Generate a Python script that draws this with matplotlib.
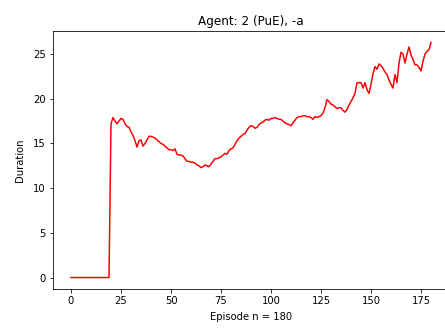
import numpy as np
import matplotlib
matplotlib.use("Agg")
import matplotlib.pyplot as plt

duration = [
    0, 0, 0, 0, 0, 0, 0, 0, 0, 0,
    0, 0, 0, 0, 0, 0, 0, 0, 0, 0,
    17.2, 17.9, 17.5, 17.2, 17.5, 17.8, 17.7, 17.2, 16.9, 16.8,
    16.3, 15.9, 15.3, 14.6, 15.3, 15.4, 14.7, 15.0, 15.4, 15.8,
    15.8, 15.7, 15.6, 15.4, 15.2, 15.0, 14.9, 14.7, 14.5, 14.3,
    14.3, 14.2, 14.4, 13.8, 13.7, 13.7, 13.6, 13.3, 13.0, 13.0,
    12.9, 12.9, 12.8, 12.6, 12.5, 12.3, 12.4, 12.6, 12.5, 12.4,
    12.7, 13.0, 13.3, 13.3, 13.4, 13.5, 13.7, 13.9, 13.8, 14.2,
    14.4, 14.5, 14.9, 15.3, 15.6, 15.8, 16.0, 16.1, 16.5, 16.8,
    17.0, 16.9, 16.7, 16.8, 17.1, 17.3, 17.4, 17.6, 17.7, 17.6,
    17.8, 17.8, 17.9, 17.8, 17.7, 17.7, 17.5, 17.3, 17.2, 17.1,
    17.0, 17.3, 17.6, 17.9, 18.0, 18.0, 18.1, 18.1, 18.0, 18.0,
    17.9, 17.7, 18.0, 17.9, 18.0, 18.1, 18.4, 19.0, 19.9, 19.7,
    19.4, 19.3, 19.1, 18.9, 19.0, 19.0, 18.7, 18.5, 18.8, 19.3,
    19.7, 20.1, 20.6, 21.8, 21.8, 21.8, 21.2, 21.8, 21.0, 20.6,
    21.6, 22.8, 23.6, 23.3, 23.9, 23.7, 23.4, 23.0, 22.7, 22.1,
    21.6, 21.2, 22.7, 21.8, 24.0, 25.2, 25.0, 24.0, 25.0, 25.8,
    24.9, 24.4, 23.8, 23.8, 23.5, 23.1, 24.2, 25.0, 25.3, 25.5,
    26.3,
]
episodes = np.arange(len(duration))

title = "Agent: 2 (PuE), -a"
xlabel = "Episode n = 180"
ylabel = "Duration"

W, H = 445, 329
fig = plt.figure(figsize=(W / 72, H / 72), dpi=72)
ax = fig.add_axes([53 / W, (H - 289.3) / H, (449 - 53) / W, (289.3 - 30.7) / H])
ax.plot(episodes, duration, color="red", linewidth=1.5)
ax.set_title(title, fontsize=12)
ax.set_xlabel(xlabel, fontsize=10, labelpad=6)
ax.set_ylabel(ylabel, fontsize=10, labelpad=8)
ax.set_xticks([0, 25, 50, 75, 100, 125, 150, 175])
ax.set_yticks([0, 5, 10, 15, 20, 25])
ax.tick_params(labelsize=10)
fig.savefig("out.png", dpi=72)
